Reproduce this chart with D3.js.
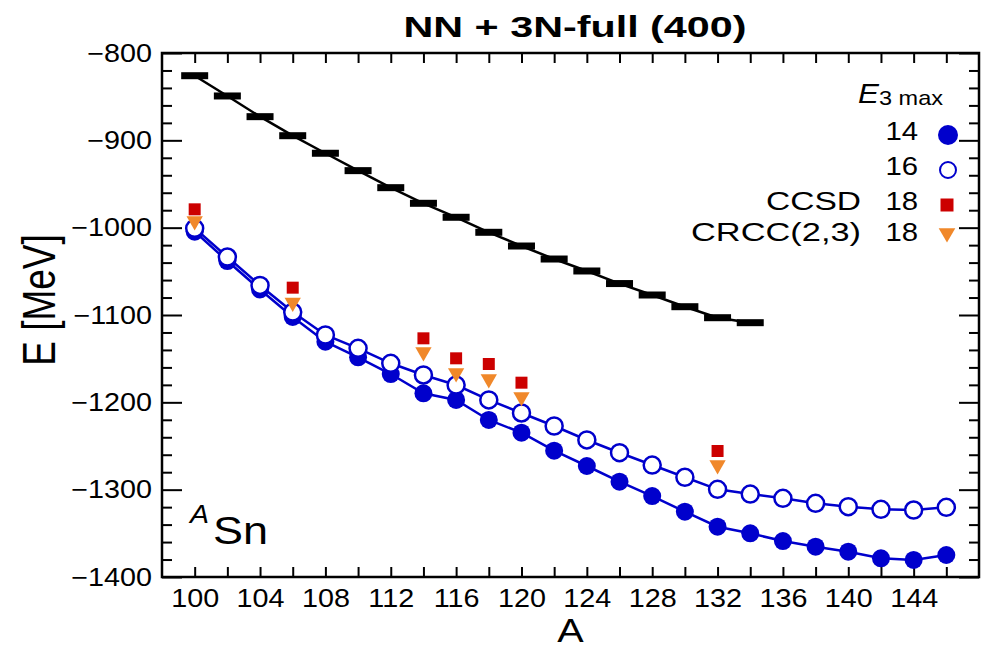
<!DOCTYPE html>
<html>
<head>
<meta charset="utf-8">
<script src="https://cdn.jsdelivr.net/npm/d3@7"></script>
<style>
  body { margin: 0; background: #ffffff; }
  text { font-family: "Liberation Sans", Arial, Helvetica, sans-serif; fill: #000; }
</style>
</head>
<body>
<svg id="chart" width="986" height="661"></svg>
<script>
// Experimental ground-state energies of the tin isotopes (MeV)
const expA = [100, 102, 104, 106, 108, 110, 112, 114, 116, 118, 120, 122, 124, 126, 128, 130, 132, 134];
const expE = [-826.0, -849.2, -872.9, -894.7, -914.8, -934.7, -954.2, -972.1, -988.1, -1005.3,
              -1021.0, -1035.9, -1049.6, -1064.0, -1077.1, -1090.5, -1103.1, -1108.8];

// Calculated energies, NN + 3N-full (400), for two E3max truncations
const calcA = [100, 102, 104, 106, 108, 110, 112, 114, 116, 118, 120, 122,
               124, 126, 128, 130, 132, 134, 136, 138, 140, 142, 144, 146];
const e3max14 = [-1004.6, -1038.2, -1070.8, -1102.3, -1130.6, -1148.4, -1167.6, -1189.7,
                 -1197.3, -1220.2, -1234.8, -1255.4, -1272.9, -1290.9, -1307.3, -1325.2,
                 -1342.4, -1350.0, -1358.8, -1365.3, -1371.0, -1378.6, -1380.5, -1374.8];
const e3max16 = [-1000.7, -1033.6, -1066.2, -1096.6, -1122.9, -1138.1, -1155.3, -1168.7,
                 -1180.2, -1197.3, -1212.2, -1227.1, -1243.1, -1257.7, -1271.8, -1285.8,
                 -1299.6, -1305.0, -1309.9, -1315.6, -1319.5, -1322.5, -1323.3, -1320.2];

// Coupled-cluster results at E3max = 18
const ccA = [100, 106, 114, 116, 118, 120, 132];
const ccsd18 = [-979.0, -1068.7, -1126.7, -1149.6, -1156.1, -1177.5, -1255.7];
const crcc18 = [-992.4, -1085.7, -1142.4, -1166.4, -1173.3, -1193.9, -1271.8];

// Axis ticks
const xTicks = [100, 102, 104, 106, 108, 110, 112, 114, 116, 118, 120, 122,
                124, 126, 128, 130, 132, 134, 136, 138, 140, 142, 144, 146];
const xLabelTicks = [100, 104, 108, 112, 116, 120, 124, 128, 132, 136, 140, 144];
const yMajorTicks = [-1400, -1300, -1200, -1100, -1000, -900, -800];
const yMinorTicks = d3.range(-1400, -799, 20).filter(v => v % 100 !== 0);

const BLUE = "#0000cc", RED = "#cc0000", ORANGE = "#f0882a";
const SX = 1.15; // horizontal glyph widening used for the labels

const svg = d3.select("#chart");
const plotLeft = 162, plotRight = 979, plotTop = 53, plotBottom = 577;

const x = d3.scaleLinear().domain([98, 148]).range([plotLeft, plotRight]);
const y = d3.scaleLinear().domain([-1400, -800]).range([plotBottom, plotTop]);

// ----- axes (ticks point into the plot on all four sides) -----
function styleAxis(g) {
  g.select(".domain").remove();
  g.selectAll(".tick line").attr("stroke", "#000").attr("stroke-width", 2);
}

svg.append("g").attr("transform", `translate(0,${plotBottom})`)
  .call(d3.axisBottom(x).tickValues(xTicks).tickSize(-10).tickPadding(12)
        .tickFormat(d => xLabelTicks.includes(d) ? d : ""))
  .call(styleAxis)
  .call(g => g.selectAll("text").attr("font-size", 25).attr("transform", `scale(${SX},1)`));

svg.append("g").attr("transform", `translate(0,${plotTop})`)
  .call(d3.axisTop(x).tickValues(xTicks).tickSize(-10).tickFormat(""))
  .call(styleAxis);

svg.append("g").attr("transform", `translate(${plotLeft},0)`)
  .call(d3.axisLeft(y).tickValues(yMajorTicks).tickSize(-20).tickPadding(10)
        .tickFormat(d3.format("d")))
  .call(styleAxis)
  .call(g => g.selectAll("text").attr("font-size", 25)
    .attr("x", -10 / SX).attr("transform", `scale(${SX},1)`));

svg.append("g").attr("transform", `translate(${plotLeft},0)`)
  .call(d3.axisLeft(y).tickValues(yMinorTicks).tickSize(-10).tickFormat(""))
  .call(styleAxis);

svg.append("g").attr("transform", `translate(${plotRight},0)`)
  .call(d3.axisRight(y).tickValues(yMajorTicks).tickSize(-20).tickFormat(""))
  .call(styleAxis);

svg.append("g").attr("transform", `translate(${plotRight},0)`)
  .call(d3.axisRight(y).tickValues(yMinorTicks).tickSize(-10).tickFormat(""))
  .call(styleAxis);

// ----- experimental values: bars joined by a line -----
const expPts = expA.map((a, i) => [a, expE[i]]);
svg.append("path").datum(expPts)
  .attr("fill", "none").attr("stroke", "#000").attr("stroke-width", 2.5)
  .attr("d", d3.line().x(d => x(d[0])).y(d => y(d[1])));
svg.append("g").selectAll("rect").data(expPts).join("rect")
  .attr("x", d => x(d[0]) - 13.5).attr("y", d => y(d[1]) - 3.5)
  .attr("width", 27).attr("height", 7).attr("fill", "#000");

// ----- E3max = 14 (filled) -----
const pts14 = calcA.map((a, i) => [a, e3max14[i]]);
svg.append("path").datum(pts14)
  .attr("fill", "none").attr("stroke", BLUE).attr("stroke-width", 2.5)
  .attr("d", d3.line().x(d => x(d[0])).y(d => y(d[1])));
svg.append("g").selectAll("circle").data(pts14).join("circle")
  .attr("cx", d => x(d[0])).attr("cy", d => y(d[1])).attr("r", 9)
  .attr("fill", BLUE);

// ----- E3max = 16 (open) -----
const pts16 = calcA.map((a, i) => [a, e3max16[i]]);
svg.append("path").datum(pts16)
  .attr("fill", "none").attr("stroke", BLUE).attr("stroke-width", 2.5)
  .attr("d", d3.line().x(d => x(d[0])).y(d => y(d[1])));
svg.append("g").selectAll("circle").data(pts16).join("circle")
  .attr("cx", d => x(d[0])).attr("cy", d => y(d[1])).attr("r", 8.5)
  .attr("fill", "#fff").attr("stroke", BLUE).attr("stroke-width", 2.5);

// ----- CCSD and CR-CC(2,3) at E3max = 18 -----
const squareSym = d3.symbol(d3.symbolSquare, 144);
const triSym = d3.symbol(d3.symbolTriangle, 115);
svg.append("g").selectAll("path").data(ccA.map((a, i) => [a, ccsd18[i]])).join("path")
  .attr("d", squareSym).attr("fill", RED)
  .attr("transform", d => `translate(${x(d[0])},${y(d[1])})`);
svg.append("g").selectAll("path").data(ccA.map((a, i) => [a, crcc18[i]])).join("path")
  .attr("d", triSym).attr("fill", ORANGE)
  .attr("transform", d => `translate(${x(d[0])},${y(d[1])}) rotate(180)`);

// ----- frame -----
svg.append("rect").attr("x", plotLeft).attr("y", plotTop)
  .attr("width", plotRight - plotLeft).attr("height", plotBottom - plotTop)
  .attr("fill", "none").attr("stroke", "#000").attr("stroke-width", 2.5);

// ----- titles -----
svg.append("text").attr("x", 575).attr("y", 37)
  .attr("text-anchor", "middle").attr("font-size", 30).attr("font-weight", "bold")
  .attr("textLength", 343).attr("lengthAdjust", "spacingAndGlyphs")
  .text("NN + 3N-full (400)");

svg.append("text").attr("text-anchor", "middle").attr("font-size", 33)
  .attr("transform", `translate(${(plotLeft + plotRight) / 2},642) scale(1.2,1)`)
  .text("A");

svg.append("text").attr("text-anchor", "middle").attr("font-size", 37)
  .attr("transform", `translate(55,300) scale(1.25,1) rotate(-90)`)
  .text("E [MeV]");

// nucleus label
svg.append("text").attr("x", 190).attr("y", 523)
  .attr("font-size", 25).attr("font-style", "italic")
  .attr("textLength", 19).attr("lengthAdjust", "spacingAndGlyphs").text("A");
svg.append("text").attr("x", 213).attr("y", 544)
  .attr("font-size", 38)
  .attr("textLength", 55).attr("lengthAdjust", "spacingAndGlyphs").text("Sn");

// ----- legend -----
const lg = svg.append("g");
const head = lg.append("text").attr("text-anchor", "end")
  .attr("transform", `translate(943,103) scale(1.12,1)`);
head.append("tspan").attr("font-size", 28).attr("font-style", "italic").text("E");
head.append("tspan").attr("font-size", 21).attr("dy", 2).text("3 max");

const legendRows = [
  { name: "", e3: "14", y: 140, mark: "filled" },
  { name: "", e3: "16", y: 175, mark: "open" },
  { name: "CCSD", e3: "18", y: 210, mark: "square", w: 95 },
  { name: "CRCC(2,3)", e3: "18", y: 241, mark: "tri", w: 170 }
];
legendRows.forEach(r => {
  lg.append("text").attr("text-anchor", "end").attr("font-size", 25.5)
    .attr("transform", `translate(918,${r.y}) scale(${SX},1)`).text(r.e3);
  if (r.name) {
    lg.append("text").attr("text-anchor", "end").attr("font-size", 25.5)
      .attr("x", 861).attr("y", r.y)
      .attr("textLength", r.w).attr("lengthAdjust", "spacingAndGlyphs").text(r.name);
  }
  const cy = r.y - 5;
  if (r.mark === "filled") lg.append("circle").attr("cx", 948).attr("cy", cy).attr("r", 10).attr("fill", BLUE);
  if (r.mark === "open") lg.append("circle").attr("cx", 948).attr("cy", cy).attr("r", 8)
    .attr("fill", "#fff").attr("stroke", BLUE).attr("stroke-width", 2);
  if (r.mark === "square") lg.append("path").attr("d", squareSym.size(169)())
    .attr("fill", RED).attr("transform", `translate(947,${cy})`);
  if (r.mark === "tri") lg.append("path").attr("d", triSym.size(120)())
    .attr("fill", ORANGE).attr("transform", `translate(947,${cy - 3}) rotate(180)`);
});
</script>
</body>
</html>
